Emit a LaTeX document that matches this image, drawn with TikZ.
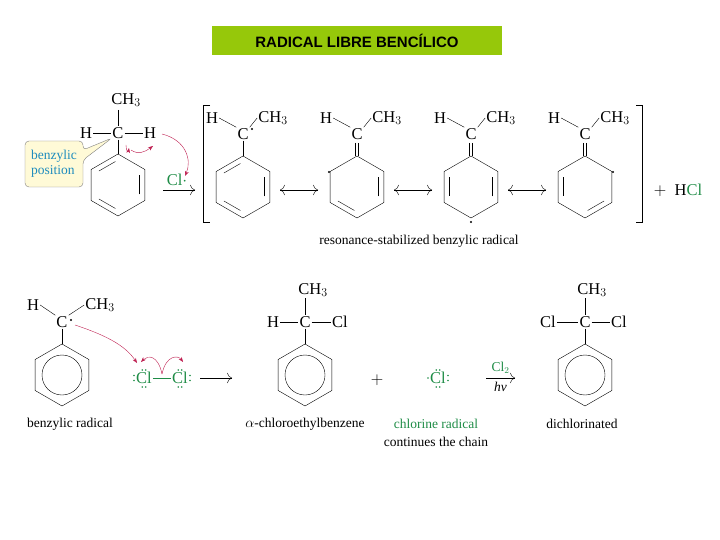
\documentclass[tikz,border=0pt]{standalone}
\usepackage{fontspec}
\setmainfont{Liberation Serif}
\newfontfamily\titlefont{Liberation Sans}
\usetikzlibrary{arrows.meta,positioning,calc}
\definecolor{clgreen}{RGB}{30,140,70}
\definecolor{arrred}{RGB}{190,30,80}
\definecolor{titlegreen}{RGB}{150,200,10}
\definecolor{callblue}{RGB}{30,140,190}
\newcommand\ring[3]{%
  \draw[shift={(#1,#2)}] (270:31) -- (210:31) -- (150:31) -- (90:31) -- (30:31) -- (-30:31) -- cycle;
  \foreach \k in #3 \draw[shift={(#1,#2)},shorten <=3pt,shorten >=3pt] (270-60*\k:25) -- (210-60*\k:25);}
\newcommand\aring[2]{%
  \draw[shift={(#1,#2)}] (270:31) -- (210:31) -- (150:31) -- (90:31) -- (30:31) -- (-30:31) -- cycle;
  \draw (#1,#2) circle (20);}
\begin{document}
\begin{tikzpicture}[x=1pt,y=-1pt,font=\fontsize{16.5}{18}\selectfont,
    atom/.style={inner sep=1pt},
    caption/.style={font=\fontsize{13.5}{15}\selectfont},
    rad/.style={->,arrred,>={Stealth[length=5pt]}},
    rxn/.style={->,>={To[length=5pt]}},
    res/.style={<->,>={To[length=5pt]}},
    lp/.style={clgreen,radius=0.9}]
\useasboundingbox (0,0) rectangle (720,540);
% title
\node[fill=titlegreen,minimum width=290pt,minimum height=29pt,font=\titlefont\bfseries\fontsize{15}{17}\selectfont] (title) at (357,41) {RADICAL LIBRE BENCÍLICO};

% ethylbenzene
\node[atom] (m1c) at (118,133) {C};
\node[atom] (m1me) at (126,100) {CH$_3$};
\node[atom] (m1hl) at (86,133) {H};
\node[atom] (m1hr) at (150,133) {H};
\draw (118,110) -- (m1c);
\draw (m1hl) -- (m1c) -- (m1hr);
\draw (m1c) -- (118,154);
\ring{118}{185}{{0,2,4}}
\draw[fill={rgb,255:red,255;green,250;blue,215},draw=gray,rounded corners=4pt]
  (25,141) -- (83,141) -- (83,150) -- (112,138) -- (83,160) -- (83,187) -- (25,187) -- cycle;
\node[caption,callblue,align=left,inner sep=0pt] (bpos) at (54,164) {benzylic\\position};
\draw[rad] (126,145) .. controls (126,150) and (128,154) .. (129,148);
\draw[rad] (131,150) .. controls (138,155) and (145,152) .. (153,146);
\draw[rad] (162,134) .. controls (186,140) and (192,160) .. (185,176);
\node[atom,clgreen] (cl1) at (177,180) {Cl$\cdot$};
\draw[rxn] (163,190) -- (195,190);

% brackets
\draw[thick] (210,105) -- (203,105) -- (203,222) -- (210,222);
\draw[thick] (636,105) -- (642,105) -- (642,222) -- (636,222);

% resonance structures
\foreach \cx/\bd/\edges in {243/0/{0,2,4},357/1/{2,4},471/1/{1,4},585/1/{1,3}}{
  \node[atom] (c\cx) at (\cx,134) {C};
  \node[atom] (h\cx) at (\cx-31,118) {H};
  \node[atom] (me\cx) at (\cx+30,118) {CH$_3$};
  \draw (h\cx.east) -- (c\cx.north west);
  \draw (c\cx.north east) -- (me\cx.west);
  \ifnum\bd=0 \draw (c\cx) -- (\cx,156);
  \else \draw (\cx-1.5,143) -- (\cx-1.5,156); \draw (\cx+1.5,143) -- (\cx+1.5,156); \fi
  \ring{\cx}{187}{\edges}
}
\fill (252,129) circle (1.1);
\fill (329,172) circle (1.1);
\fill (471,222) circle (1.1);
\fill (613,172) circle (1.1);
\draw[res] (280,190) -- (318,190);
\draw[res] (394,190) -- (432,190);
\draw[res] (508,190) -- (546,190);
\node[atom] (hcl) at (678,190) {$+$\enspace H\textcolor{clgreen}{Cl}};
\node[caption] (rescap) at (419,241) {resonance-stabilized benzylic radical};

% benzylic radical
\node[atom] (b1c) at (62,322) {C};
\node[atom] (b1h) at (33,305) {H};
\node[atom] (b1me) at (100,305) {CH$_3$};
\draw (b1h.east) -- (b1c.north west);
\draw (b1c.north east) -- (b1me.west);
\draw (b1c) -- (62,344);
\aring{62}{375}
\fill (71,320) circle (1.1);
\node[caption] (bcap) at (70,424) {benzylic radical};

% Cl-Cl
\node[atom,clgreen] (cla) at (144,378) {Cl};
\node[atom,clgreen] (clb) at (180,378) {Cl};
\draw[clgreen] (cla) -- (clb);
\foreach \n in {cla,clb}{
  \fill[lp] ($(\n.north)+(-1.8,-1)$) circle; \fill[lp] ($(\n.north)+(1.8,-1)$) circle;
  \fill[lp] ($(\n.south)+(-1.8,2)$) circle; \fill[lp] ($(\n.south)+(1.8,2)$) circle;}
\fill[lp] ($(cla.west)+(-1,-2.5)$) circle; \fill[lp] ($(cla.west)+(-1,2.5)$) circle;
\fill[lp] ($(clb.east)+(1,-2.5)$) circle; \fill[lp] ($(clb.east)+(1,2.5)$) circle;
\draw[rad] (75,325) .. controls (105,335) and (125,345) .. (137,363);
\draw[rad] (162,374) .. controls (158,355) and (148,355) .. (141,362);
\draw[rad] (162,374) .. controls (166,355) and (178,355) .. (183,362);
\draw[rxn] (200,378) -- (232,378);

% alpha-chloroethylbenzene
\node[atom] (p1c) at (305,322) {C};
\node[atom] (p1me) at (313,290) {CH$_3$};
\node[atom] (p1h) at (273,322) {H};
\node[atom] (p1cl) at (340,322) {Cl};
\draw (305,298) -- (p1c);
\draw (p1h) -- (p1c) -- (p1cl);
\draw (p1c) -- (305,344);
\aring{305}{375}
\node[caption] (p1cap) at (305,424) {$\alpha$-chloroethylbenzene};

% chlorine radical
\node[atom] (plus) at (377,380) {$+$};
\node[atom,clgreen] (clr) at (438,378) {Cl};
\fill[lp] ($(clr.north)+(-1.8,-1)$) circle; \fill[lp] ($(clr.north)+(1.8,-1)$) circle;
\fill[lp] ($(clr.south)+(-1.8,2)$) circle; \fill[lp] ($(clr.south)+(1.8,2)$) circle;
\fill[lp] ($(clr.west)+(-1,0)$) circle;
\fill[lp] ($(clr.east)+(1,-2.5)$) circle; \fill[lp] ($(clr.east)+(1,2.5)$) circle;
\node[caption,clgreen] (clcap) at (436,424) {chlorine radical};
\node[caption] (clcap2) at (436,442) {continues the chain};

% second chlorination
\coordinate (a2s) at (486,378);
\coordinate (a2e) at (515,378);
\draw[rxn] (a2s) -- (a2e) node[midway,above=1pt,caption,clgreen] {Cl$_2$} node[midway,below=1pt,caption] {\textit{hν}};

% dichlorinated
\node[atom] (p2c) at (585,322) {C};
\node[atom] (p2me) at (592,290) {CH$_3$};
\node[atom] (p2cla) at (548,322) {Cl};
\node[atom] (p2clb) at (619,322) {Cl};
\draw (585,298) -- (p2c);
\draw (p2cla) -- (p2c) -- (p2clb);
\draw (p2c) -- (585,344);
\aring{585}{375}
\node[caption] (p2cap) at (582,424) {dichlorinated};
\end{tikzpicture}
\end{document}
